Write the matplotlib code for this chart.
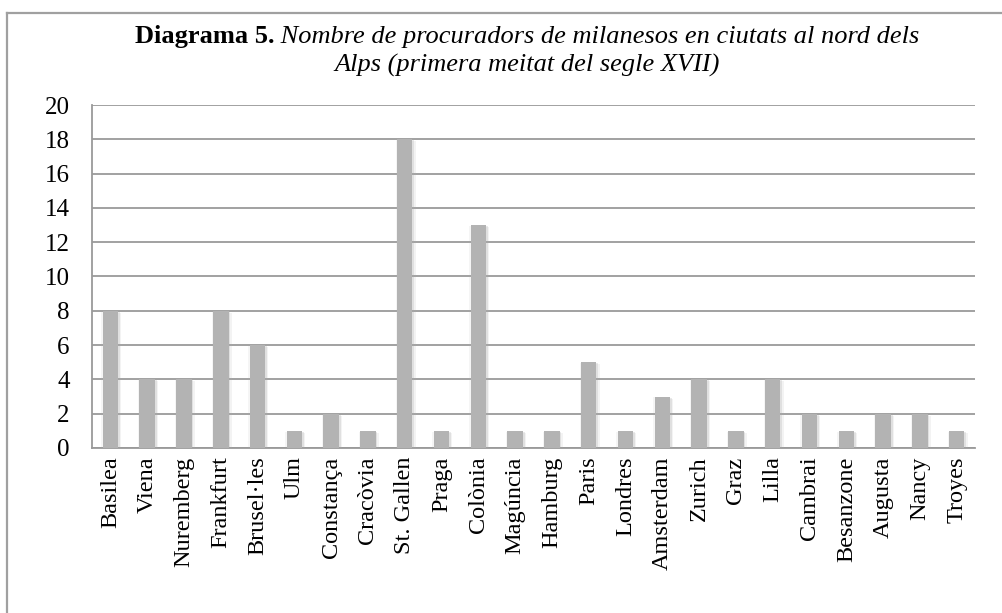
import matplotlib.pyplot as plt
import matplotlib.patheffects as pe
from matplotlib.lines import Line2D

plt.rcParams['font.family'] = ['Liberation Serif', 'DejaVu Serif']

cities = ['Basilea', 'Viena', 'Nuremberg', 'Frankfurt', 'Brusel·les', 'Ulm',
          'Constança', 'Cracòvia', 'St. Gallen', 'Praga', 'Colònia', 'Magúncia',
          'Hamburg', 'Paris', 'Londres', 'Amsterdam', 'Zurich', 'Graz', 'Lilla',
          'Cambrai', 'Besanzone', 'Augusta', 'Nancy', 'Troyes']
procuradors = [8, 4, 4, 8, 6, 1, 2, 1, 18, 1, 13, 1, 1, 5, 1, 3, 4, 1, 4,
               2, 1, 2, 2, 1]
yticks = list(range(0, 21, 2))

fig = plt.figure(figsize=(10.02, 6.13), dpi=100)
ax = fig.add_axes([0.0918, 0.2692, 0.8814, 0.5595])

x = range(len(cities))
bars = ax.bar(x, procuradors, width=0.42, color='#b3b3b3', zorder=3)
# soft drop shadow around the bars
for b in bars:
    b.set_path_effects([
        pe.SimplePatchShadow(offset=(2.2, -1.5), shadow_rgbFace='#b0b0b0', alpha=0.15),
        pe.SimplePatchShadow(offset=(1.2, -0.8), shadow_rgbFace='#a8a8a8', alpha=0.25),
        pe.SimplePatchShadow(offset=(-1.0, -0.5), shadow_rgbFace='#b0b0b0', alpha=0.12),
        pe.Normal()])

ax.set_xlim(-0.5, len(cities) - 0.5)
ax.set_ylim(0, 20)
ax.set_yticks(yticks)
ax.set_xticks(list(x))
ax.set_xticklabels(cities, rotation=90, fontsize=17.5)
ax.tick_params(axis='y', length=0, pad=16, labelsize=18)
ax.tick_params(axis='x', length=0, pad=6)
ax.yaxis.grid(True, color='#9a9a9a', linewidth=1.3, zorder=1)
ax.set_axisbelow(True)
for side in ('top', 'right'):
    ax.spines[side].set_visible(False)
for side in ('left', 'bottom'):
    ax.spines[side].set_color('#9a9a9a')
    ax.spines[side].set_linewidth(1.3)

# chart area frame (top and left edges)
fig.add_artist(Line2D([7 / 1002, 7 / 1002], [0, 1 - 13 / 613], color='#a0a0a0', linewidth=1.6,
                      transform=fig.transFigure))
fig.add_artist(Line2D([7 / 1002, 1], [1 - 13 / 613, 1 - 13 / 613], color='#a0a0a0', linewidth=1.6,
                      transform=fig.transFigure))

# title: bold label followed by italic text
fig.canvas.draw()
renderer = fig.canvas.get_renderer()
title_size = 19
bold = fig.text(0, 0, 'Diagrama 5.', fontsize=title_size, fontweight='bold', va='baseline')
ital = fig.text(0, 0, ' Nombre de procuradors de milanesos en ciutats al nord dels',
                fontsize=title_size, fontstyle='italic', va='baseline')
wb = bold.get_window_extent(renderer).width
wi = ital.get_window_extent(renderer).width
x0 = 527 - (wb + wi) / 2
y1 = 1 - 43 / 613
bold.set_position((x0 / 1002, y1))
ital.set_position(((x0 + wb) / 1002, y1))
fig.text(527 / 1002, 1 - 72 / 613, 'Alps (primera meitat del segle XVII)', fontsize=title_size,
         fontstyle='italic', ha='center', va='baseline')

fig.savefig('out.png', dpi=100)
